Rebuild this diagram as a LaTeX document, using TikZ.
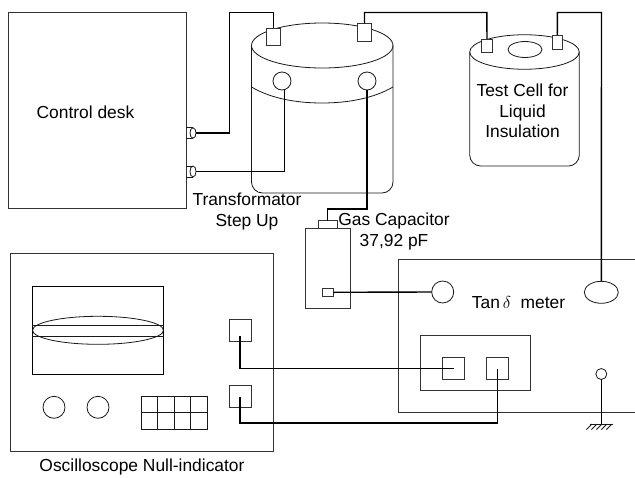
\documentclass[tikz,border=0pt]{standalone}
\usepackage{fontspec}
\setmainfont{Liberation Sans}
\usetikzlibrary{positioning,calc,shapes.geometric}

\begin{document}
\begin{tikzpicture}[x=1pt,y=-1pt,
  panel/.style={draw=black!80,line width=0.8pt,rectangle,inner sep=0pt,outer sep=0pt},
  term/.style={panel,fill=white},
  knob/.style={draw=black!90,line width=0.8pt,circle,fill=white,inner sep=0pt,outer sep=0pt},
  oval/.style={draw=black!90,line width=0.8pt,ellipse,inner sep=0pt,outer sep=0pt},
  body/.style={draw=black!90,line width=0.8pt},
  wire/.style={draw=black,line width=1.4pt},
  lbl/.style={inner sep=0pt,align=center,font=\fontsize{17.4}{20.6}\selectfont}]
  \useasboundingbox (0,0) rectangle (635,477);
  % control desk
  \node[panel,minimum width=178,minimum height=196] (desk) at (97,110) {};
  \node[lbl] (deskLabel) at (85.5,112) {Control desk};
  \node[oval,minimum width=6,minimum height=10.5] (deskCapA) at (193,133) {};
  \node[oval,minimum width=6,minimum height=11] (deskCapB) at (193,171.5) {};
  \draw[body] (desk.east|-deskCapA.north)--(deskCapA.north);
  \draw[body] (desk.east|-deskCapA.south)--(deskCapA.south);
  \draw[body] (desk.east|-deskCapB.north)--(deskCapB.north);
  \draw[body] (desk.east|-deskCapB.south)--(deskCapB.south);
  % transformator
  \draw[body,rounded corners=11] (251.5,45)--(251.5,193)--(393,193)--(393,45);
  \node[oval,minimum width=141.5,minimum height=45] (trTop) at (322.25,45.5) {};
  \draw[body] (251.5,87) .. controls (270,98) and (295,103) .. (322,103)
    .. controls (349,103) and (374,98) .. (393,87);
  \node[term,minimum width=13.5,minimum height=17] (trTermA) at (273.5,36.5) {};
  \node[term,minimum width=13.5,minimum height=18] (trTermB) at (364.5,32) {};
  \node[knob,minimum size=18] (trCoilA) at (282,81) {};
  \node[knob,minimum size=18] (trCoilB) at (367,81) {};
  \node[lbl] (trLabel) at (247,211.5) {Transformator\\Step Up};
  % gas capacitor
  \node[panel,minimum width=44.5,minimum height=80] (gas) at (328,268.5) {};
  \node[panel,minimum width=19.5,minimum height=8,anchor=south] (gasTop) at (gas.north) {};
  \node[panel,minimum width=11,minimum height=8] (gasPort) at (327.8,292.3) {};
  \node[lbl] (gasLabel) at (394,231.5) {Gas Capacitor\\37,92 pF};
  % test cell
  \draw[body,rounded corners=11] (469.7,52)--(469.7,166)--(579.3,166)--(579.3,52);
  \node[oval,minimum width=109.6,minimum height=34.5] (cellTop) at (524.5,52) {};
  \node[oval,minimum width=34,minimum height=16] (cellHole) at (525,49.5) {};
  \node[term,minimum width=10.7,minimum height=13.5] (cellTermA) at (487,45.7) {};
  \node[term,minimum width=10.7,minimum height=14.5] (cellTermB) at (557.3,42.2) {};
  \node[lbl] (cellLabel) at (522.5,111) {Test Cell for\\Liquid\\Insulation};
  % tan delta meter
  \node[panel,minimum width=240,minimum height=153.5] (meter) at (518.7,335.7) {};
  \node[knob,minimum size=22] (meterKnob) at (442.7,292) {};
  \node[oval,minimum width=34,minimum height=22] (meterOval) at (601.3,292.3) {};
  \node[lbl] (meterLabel) at (518.5,303) {Tan\,$\delta$\ \ meter};
  \node[panel,minimum width=109.6,minimum height=55] (meterInner) at (475.5,363.2) {};
  \node[panel,minimum width=22,minimum height=22] (meterPortA) at (453.7,368.7) {};
  \node[panel,minimum width=22.4,minimum height=22] (meterPortB) at (497.5,368.7) {};
  \node[knob,minimum size=11] (gndPin) at (601.3,374) {};
  \coordinate (gnd) at (601.3,424);
  \draw[wire,line width=1pt] (gndPin)--(gnd);
  \draw[body] (590,424)--(612.7,424);
  \foreach \hx in {592,597,602,607,612}
    \draw[body] (\hx,424)--++(-5.5,5.5);
  % oscilloscope
  \node[panel,minimum width=263,minimum height=197.7] (osc) at (141.8,352.2) {};
  \node[panel,draw=black,line width=1.1pt,minimum width=131.4,minimum height=88] (screen) at (98,330.3) {};
  \node[oval,minimum width=131,minimum height=28] (trace) at (screen.center) {};
  \draw[body] (screen.west|-0,325)--(screen.east|-0,325);
  \draw[body,line width=1pt] (screen.west|-0,336)--(screen.east|-0,336);
  \node[knob,minimum size=22] (oscKnobA) at (54,407.3) {};
  \node[knob,minimum size=22] (oscKnobB) at (98,407.3) {};
  \node[panel,minimum width=22.3,minimum height=22] (oscPortA) at (240.5,330.3) {};
  \node[panel,minimum width=22.3,minimum height=22] (oscPortB) at (240.5,396.3) {};
  \draw[body] (141.3,396) rectangle (207.3,429.3);
  \foreach \gx in {157.8,174.3,190.8}
    \draw[body] (\gx,396)--(\gx,429.3);
  \draw[body] (141.3,412.6)--(207.3,412.6);
  \node[lbl] (oscLabel) at (142,467) {Oscilloscope Null-indicator};
  % wiring
  \coordinate (busA) at (229.3,12.5);
  \coordinate (busB) at (486.8,12.5);
  \coordinate (busC) at (601.5,12.5);
  \coordinate (gasBend) at (327.7,209);
  \coordinate (oscPinA) at (240,335.7);
  \coordinate (oscPinB) at (240,396.7);
  \coordinate (meterPinA) at (454.3,368.5);
  \coordinate (meterPinB) at (497.3,369);
  \coordinate (meterBend) at (497.3,423);
  \draw[wire] (trTermA.north)|-(busA)|-(deskCapA.east);
  \draw[wire] (deskCapB.east)-|(trCoilA.-73);
  \draw[wire] (trTermB.north)|-(busB)--(cellTermA.north);
  \draw[wire] (trCoilB.south)|-(gasBend)--(gasBend|-gasTop.north);
  \draw[wire] (gasPort.east)--(meterKnob.west);
  \draw[wire] (cellTermB.north)|-(busC)--(meterOval.north);
  \draw[wire] (oscPinA)|-(meterPinA);
  \draw[wire] (oscPinB)|-(meterBend)--(meterPinB);
\end{tikzpicture}
\end{document}
